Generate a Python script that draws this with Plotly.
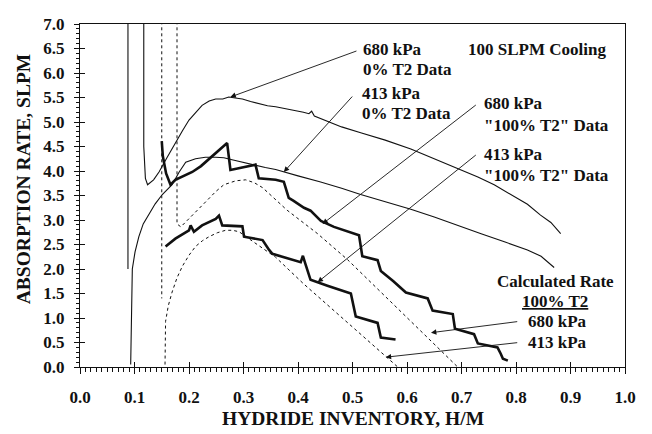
import plotly.graph_objects as go

# ---------------- data ----------------
hm_680_0 = [0.117, 0.117, 0.120, 0.124, 0.135, 0.145, 0.160, 0.175, 0.188, 0.200, 0.212, 0.224, 0.237,
            0.249, 0.262, 0.273, 0.285, 0.298, 0.313, 0.328, 0.344, 0.359, 0.375, 0.393, 0.410, 0.420,
            0.425, 0.430, 0.454, 0.480, 0.515, 0.560, 0.607, 0.650, 0.699, 0.730, 0.760, 0.790, 0.821,
            0.845, 0.864, 0.882]
rate_680_0 = [7.3, 4.5, 3.85, 3.72, 3.82, 3.98, 4.28, 4.58, 4.82, 5.04, 5.20, 5.34, 5.43,
              5.47, 5.47, 5.51, 5.49, 5.47, 5.42, 5.38, 5.33, 5.31, 5.28, 5.24, 5.20, 5.17,
              5.22, 5.12, 5.01, 4.90, 4.78, 4.63, 4.45, 4.25, 4.02, 3.88, 3.72, 3.52, 3.32,
              3.10, 2.95, 2.72]

hm_413_0 = [0.088, 0.088, None, 0.093, 0.094, 0.096, 0.101, 0.108, 0.116, 0.126, 0.138, 0.151, 0.169,
            0.182, 0.194, 0.212, 0.230, 0.249, 0.264, 0.279, 0.300, 0.322, 0.340, 0.359, 0.374, 0.400,
            0.440, 0.480, 0.515, 0.560, 0.607, 0.650, 0.699, 0.736, 0.780, 0.821, 0.846, 0.870]
rate_413_0 = [7.3, 2.0, None, 0.05, 1.0, 2.0, 2.35, 2.66, 2.92, 3.12, 3.33, 3.52, 3.72,
              3.98, 4.18, 4.25, 4.28, 4.28, 4.27, 4.23, 4.17, 4.11, 4.07, 4.03, 3.98, 3.90,
              3.78, 3.65, 3.52, 3.37, 3.22, 3.06, 2.86, 2.72, 2.55, 2.39, 2.26, 2.03]

hm_680_100 = [0.150, 0.152, 0.158, 0.166, 0.175, 0.190, 0.206, 0.222, 0.237, 0.254, 0.270, 0.276,
              0.298, 0.322, 0.328, 0.359, 0.374, 0.383, 0.392, 0.411, 0.423, 0.442, 0.466, 0.512,
              0.518, 0.546, 0.552, 0.575, 0.598, 0.638, 0.647, 0.684, 0.688, 0.723, 0.730, 0.766,
              0.772, 0.776, 0.785]
rate_680_100 = [4.61, 4.30, 3.95, 3.72, 3.82, 3.90, 3.98, 4.10, 4.25, 4.42, 4.57, 4.02,
                4.08, 4.13, 3.85, 3.82, 3.78, 3.45, 3.39, 3.25, 3.19, 2.98, 2.86, 2.69,
                2.26, 2.18, 1.96, 1.75, 1.52, 1.40, 1.15, 1.08, 0.78, 0.67, 0.48, 0.40,
                0.27, 0.17, 0.13]

hm_413_100 = [0.157, 0.175, 0.200, 0.203, 0.209, 0.224, 0.249, 0.255, 0.261, 0.298, 0.301, 0.335,
              0.347, 0.353, 0.405, 0.409, 0.414, 0.423, 0.454, 0.497, 0.506, 0.546, 0.552, 0.579]
rate_413_100 = [2.46, 2.62, 2.79, 2.89, 2.76, 2.89, 3.02, 3.09, 2.89, 2.87, 2.66, 2.59,
                2.39, 2.31, 2.14, 2.27, 2.09, 1.78, 1.66, 1.50, 1.03, 0.90, 0.60, 0.56]

hm_calc_680 = [0.178, 0.178, 0.185, 0.195, 0.206, 0.220, 0.235, 0.249, 0.264, 0.286, 0.304, 0.320,
               0.335, 0.380, 0.436, 0.491, 0.550, 0.620, 0.693]
rate_calc_680 = [7.3, 2.92, 2.86, 2.97, 3.08, 3.25, 3.42, 3.58, 3.72, 3.80, 3.82, 3.76,
                 3.66, 3.20, 2.72, 2.19, 1.55, 0.80, 0.0]

hm_calc_413 = [0.150, 0.150, None, 0.156, 0.157, 0.162, 0.169, 0.178, 0.188, 0.200, 0.212, 0.225,
               0.237, 0.252, 0.267, 0.280, 0.292, 0.320, 0.359, 0.410, 0.460, 0.520, 0.583]
rate_calc_413 = [7.3, 1.40, None, 0.05, 0.93, 1.25, 1.53, 1.82, 2.06, 2.28, 2.46, 2.58,
                 2.66, 2.74, 2.79, 2.79, 2.76, 2.54, 2.24, 1.70, 1.20, 0.62, 0.0]

x_ticks = [0.0, 0.1, 0.2, 0.3, 0.4, 0.5, 0.6, 0.7, 0.8, 0.9, 1.0]
y_ticks = [0.0, 0.5, 1.0, 1.5, 2.0, 2.5, 3.0, 3.5, 4.0, 4.5, 5.0, 5.5, 6.0, 6.5, 7.0]

FONT = "Liberation Serif, Times New Roman, serif"
BLACK = "#111111"

fig = go.Figure()

def line(x, y, width, dash="solid"):
    fig.add_trace(go.Scatter(x=x, y=y, mode="lines", connectgaps=False,
                             line=dict(color=BLACK, width=width, dash=dash),
                             showlegend=False, hoverinfo="skip"))

line(hm_680_0, rate_680_0, 1.1)
line(hm_413_0, rate_413_0, 1.1)
line(hm_calc_680, rate_calc_680, 1.0, "dot")
line(hm_calc_413, rate_calc_413, 1.0, "dot")
line(hm_680_100, rate_680_100, 2.6)
line(hm_413_100, rate_413_100, 2.6)

# empty trace on overlay axes to draw inside half of the crossing major ticks
fig.add_trace(go.Scatter(x=[], y=[], xaxis="x2", yaxis="y2", showlegend=False))

# ---------------- annotations ----------------
def text(x, y, s, xanchor="left"):
    fig.add_annotation(x=x, y=y, text=s, showarrow=False, xanchor=xanchor, yanchor="middle",
                       font=dict(family=FONT, size=17, color=BLACK))

def arrow(tx, ty, hx, hy):
    fig.add_annotation(x=hx, y=hy, ax=tx, ay=ty, axref="x", ayref="y", xref="x", yref="y",
                       text="", showarrow=True, arrowhead=2, arrowsize=1.2, arrowwidth=0.9,
                       arrowcolor=BLACK, standoff=0, startstandoff=0)

text(0.515, 6.47, "<b>680 kPa</b>")
text(0.515, 6.07, "<b>0% T2 Data</b>")
arrow(0.510, 6.46, 0.276, 5.51)

text(0.513, 5.59, "<b>413 kPa</b>")
text(0.513, 5.17, "<b>0% T2 Data</b>")
arrow(0.502, 5.55, 0.374, 3.98)

text(0.737, 5.37, "<b>680 kPa</b>")
text(0.737, 4.93, "<b>\"100% T2\" Data</b>")
arrow(0.729, 5.37, 0.445, 2.92)

text(0.737, 4.33, "<b>413 kPa</b>")
text(0.737, 3.90, "<b>\"100% T2\" Data</b>")
arrow(0.729, 4.35, 0.436, 1.73)

text(0.709, 6.47, "<b>100 SLPM Cooling</b>")

text(0.873, 1.75, "<b>Calculated Rate</b>", xanchor="center")
text(0.871, 1.33, "<b><u>100% T2</u></b>", xanchor="center")
text(0.818, 0.93, "<b>680 kPa</b>")
text(0.818, 0.50, "<b>413 kPa</b>")
arrow(0.805, 0.93, 0.644, 0.70)
arrow(0.805, 0.50, 0.561, 0.20)

# axis titles
fig.add_annotation(x=0.50, y=-0.150, xref="paper", yref="paper", text="<b>HYDRIDE INVENTORY, H/M</b>",
                   showarrow=False, xanchor="center", yanchor="middle",
                   font=dict(family=FONT, size=19.5, color=BLACK))
fig.add_annotation(x=-0.103, y=0.547, xref="paper", yref="paper", text="<b>ABSORPTION RATE, SLPM</b>",
                   showarrow=False, textangle=-90, xanchor="center", yanchor="middle",
                   font=dict(family=FONT, size=19.5, color=BLACK))

tickfont = dict(family=FONT, size=17, color=BLACK)
fig.update_layout(
    width=644, height=426,
    margin=dict(l=72, r=27, t=7, b=67),
    paper_bgcolor="white", plot_bgcolor="white",
    xaxis=dict(range=[0, 1], tickvals=x_ticks, ticktext=[f"<b>{v:.1f}</b>" for v in x_ticks],
               tickfont=tickfont, ticks="outside", ticklen=6, tickwidth=1, tickcolor=BLACK,
               ticklabelstandoff=9, ticklabeloverflow="allow",
               minor=dict(dtick=0.01, ticks="outside", ticklen=4, tickcolor=BLACK, tickwidth=1),
               showline=True, linecolor=BLACK, linewidth=1, mirror=True,
               showgrid=False, zeroline=False, fixedrange=True),
    yaxis=dict(range=[0, 7], tickvals=y_ticks, ticktext=[f"<b>{v:.1f}</b>" for v in y_ticks],
               tickfont=tickfont, ticks="outside", ticklen=5, tickwidth=1, tickcolor=BLACK,
               ticklabelstandoff=6, ticklabeloverflow="allow",
               minor=dict(dtick=0.1, ticks="outside", ticklen=3, tickcolor=BLACK, tickwidth=1),
               showline=True, linecolor=BLACK, linewidth=1, mirror=True,
               showgrid=False, zeroline=False, fixedrange=True),
    xaxis2=dict(range=[0, 1], overlaying="x", anchor="y2", side="bottom", tickvals=x_ticks,
                ticks="inside", ticklen=5, tickcolor=BLACK, showticklabels=False,
                showline=False, showgrid=False, zeroline=False),
    yaxis2=dict(range=[0, 7], overlaying="y", anchor="x2", side="left", tickvals=y_ticks,
                ticks="inside", ticklen=5, tickcolor=BLACK, showticklabels=False,
                showline=False, showgrid=False, zeroline=False),
)

fig.write_html("out.html")
